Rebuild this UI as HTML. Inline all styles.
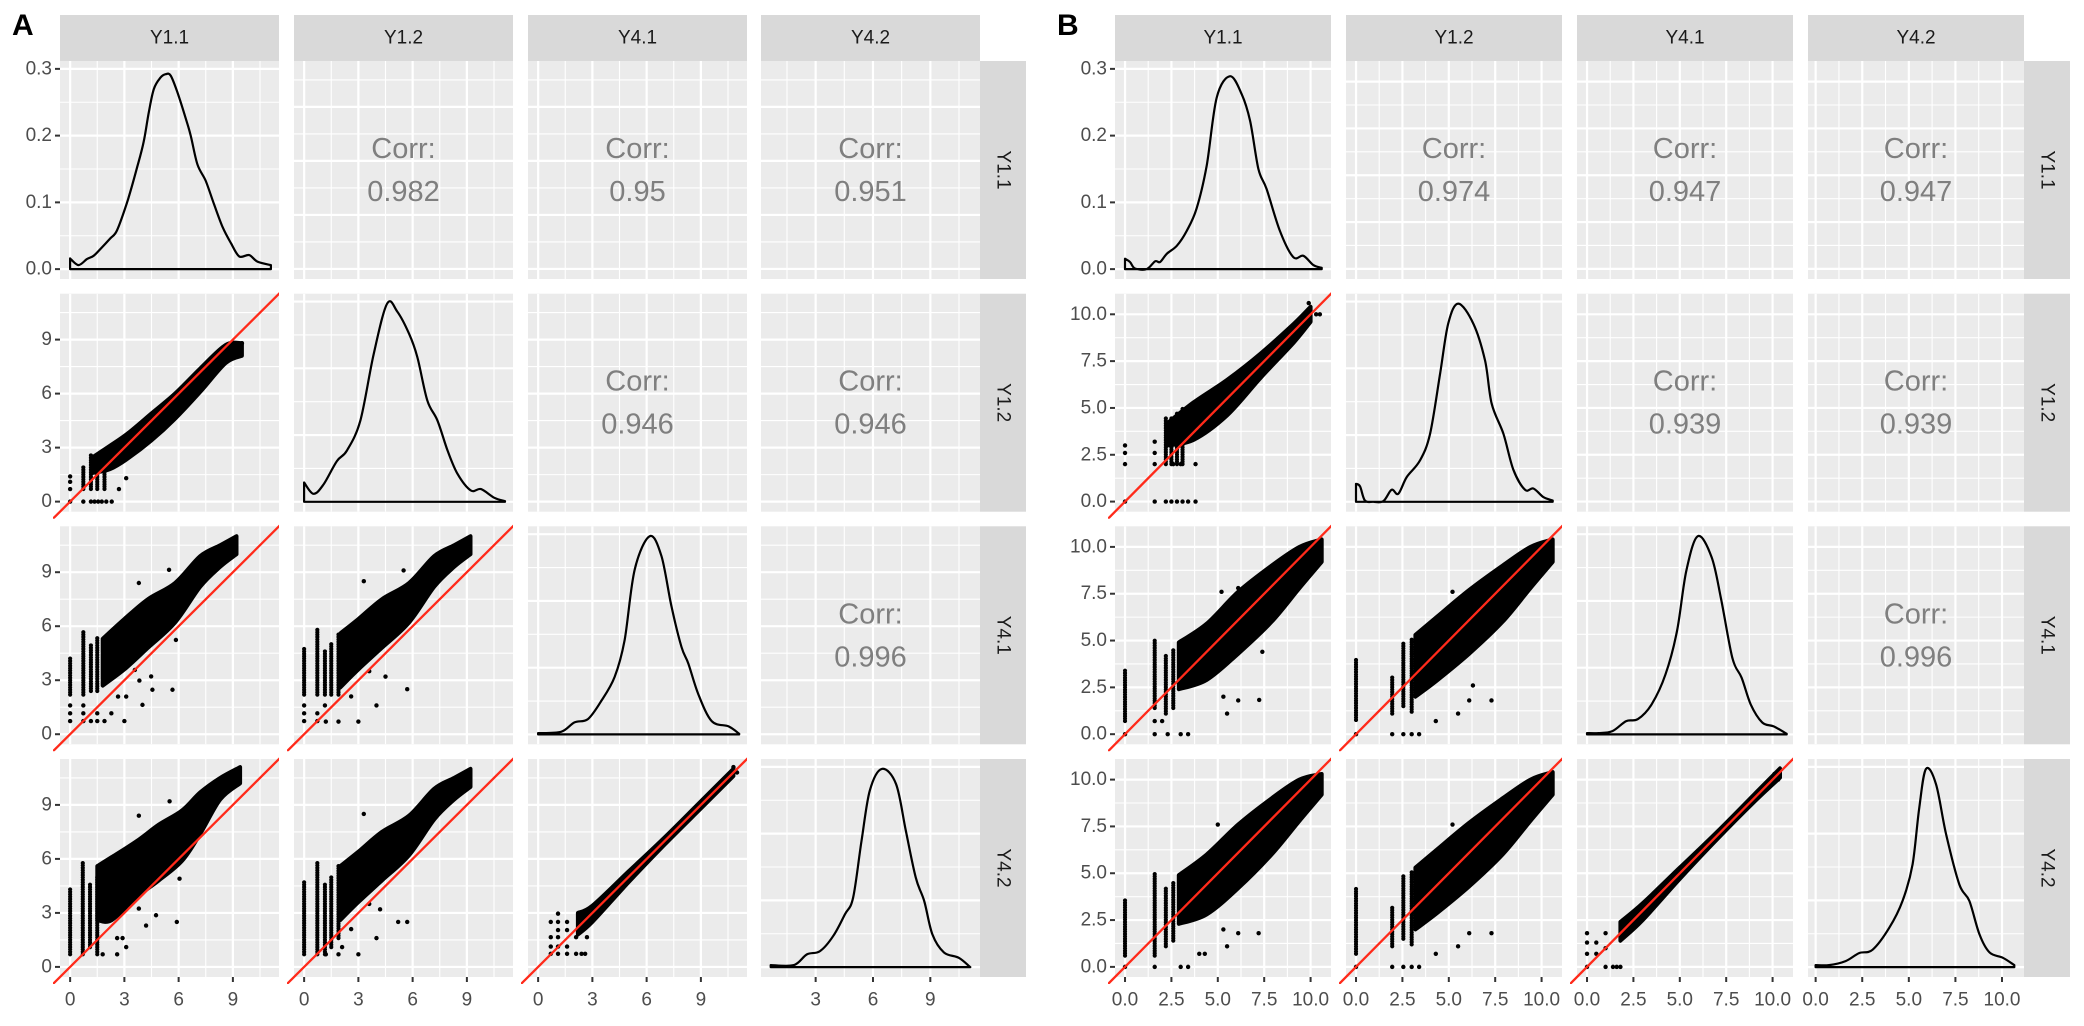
<!DOCTYPE html>
<html><head><meta charset="utf-8">
<style>
html,body{margin:0;padding:0;background:#fff;}
svg{display:block;font-family:"Liberation Sans",Arial,sans-serif;}
</style></head>
<body>
<svg id="chart" width="2084" height="1026" viewBox="0 0 2084 1026" xmlns="http://www.w3.org/2000/svg">
<rect x="0" y="0" width="2084" height="1026" fill="#fff"/>
</svg>
<script>
// ---------- DATA: variable names ----------
const varNames = ["Y1.1","Y1.2","Y4.1","Y4.2"];
// correlations (upper triangle, order: 1-2,1-3,1-4,2-3,2-4,3-4)
const corrA = ["0.982","0.95","0.951","0.946","0.946","0.996"];
const corrB = ["0.974","0.947","0.947","0.939","0.939","0.996"];

// ---------- DATA: densities, panel A ----------
const aD1x=[0,0.46,0.93,1.3,1.67,2.22,2.59,3.15,3.7,4.07,4.35,4.63,5.0,5.28,5.56,5.93,6.39,6.67,7.04,7.5,7.96,8.43,8.89,9.35,9.9,10.37,11.1];
const aD1y=[0.016,0.006,0.015,0.02,0.03,0.046,0.058,0.1,0.152,0.191,0.235,0.27,0.287,0.292,0.29,0.265,0.226,0.2,0.157,0.132,0.097,0.063,0.039,0.019,0.021,0.011,0.006];
const aD2x=[0,0.52,1.07,1.81,2.37,3.11,3.85,4.59,5.15,5.8,6.26,6.81,7.37,7.93,8.48,9.22,9.78,10.52,11.11];
const aD2y=[0.029,0.012,0.026,0.061,0.077,0.122,0.222,0.297,0.285,0.252,0.217,0.152,0.122,0.077,0.042,0.017,0.019,0.006,0.001];
const aD3x=[0,1.27,2.01,2.75,3.49,4.23,4.78,5.34,6.17,6.82,7.38,7.93,8.31,8.86,9.6,10.53,11.12];
const aD3y=[0.002,0.004,0.018,0.023,0.05,0.086,0.141,0.247,0.297,0.267,0.191,0.131,0.106,0.06,0.02,0.012,0.001];
const aD4x=[0.65,1.86,2.54,3.23,3.93,4.53,4.96,5.40,5.83,6.46,7.21,7.72,8.24,8.68,9.11,9.71,10.49,11.09];
const aD4y=[0.003,0.003,0.019,0.024,0.047,0.079,0.104,0.189,0.264,0.297,0.274,0.204,0.134,0.099,0.049,0.022,0.014,0];

// ---------- DATA: densities, panel B ----------
const bD1x=[0,0.27,0.54,1.17,1.62,1.89,2.25,2.79,3.32,3.86,4.4,4.94,5.66,6.29,6.74,7.19,7.63,8.35,9.07,9.61,10.15,10.6];
const bD1y=[0.0156,0.0107,0.001,0,0.0117,0.0107,0.023,0.035,0.057,0.091,0.155,0.257,0.289,0.262,0.222,0.15,0.12,0.057,0.018,0.02,0.006,0.002];
const bD2x=[0,0.22,0.48,0.93,1.47,1.92,2.28,2.73,3.45,3.99,4.53,4.97,5.51,6.32,6.95,7.31,7.94,8.48,9.11,9.56,10.1,10.6];
const bD2y=[0.027,0.023,0.002,0,0.001,0.018,0.012,0.037,0.062,0.102,0.192,0.267,0.297,0.267,0.212,0.147,0.102,0.048,0.018,0.02,0.007,0.002];
const bD3x=[0,0.62,1.37,2.11,2.74,3.48,4.23,4.85,5.35,5.97,6.71,7.21,7.83,8.33,8.82,9.44,10.06,10.76];
const bD3y=[0.002,0.002,0.005,0.02,0.023,0.045,0.09,0.155,0.245,0.297,0.266,0.205,0.115,0.085,0.045,0.018,0.012,0.001];
const bD4x=[0,0.72,1.61,2.33,3.05,3.95,4.66,5.2,5.56,5.92,6.46,7.0,7.71,8.25,8.79,9.33,10.05,10.66];
const bD4y=[0.003,0.003,0.009,0.021,0.026,0.059,0.099,0.154,0.239,0.297,0.274,0.199,0.124,0.099,0.049,0.022,0.014,0.003];

// ---------- DATA: scatter clouds, panel A ----------
const aS21bandX=[1.3,2.2,3.2,4.5,5.8,7.2,8.6,9.5], aS21hi=[2.5,3.1,3.8,4.9,6.0,7.4,8.7,8.8], aS21lo=[1.6,1.8,2.4,3.4,4.6,6.1,7.7,8.1];
const aS21stX=[0.73,1.15,1.5,1.9], aS21stLo=[0.7,0.7,0.7,0.7], aS21stHi=[2.0,2.6,2.6,2.9];
const aS21outX=[0,0,0,0,0.73,1.15,1.35,1.55,1.75,2.0,2.3,2.7,3.1,9.2,9.5], aS21outY=[0,0.7,1.1,1.4,0,0,0,0,0,0,0,0.7,1.3,8.2,8.8];

const aS31bandX=[1.8,3.0,4.3,5.8,7.2,8.3,9.2], aS31hi=[5.3,6.4,7.5,8.4,9.9,10.5,11.0], aS31lo=[2.7,3.6,4.8,6.2,8.2,9.3,10.0];
const aS31stX=[0,0.73,1.15,1.5], aS31stLo=[2.2,2.2,2.4,2.4], aS31stHi=[4.2,5.7,5.0,5.4];
const aS31outX=[3.58,3.83,4.48,4.0,4.55,5.66,5.85,2.65,3.1,2.28,3.0,1.9,5.47,3.8,0,0,0,0.73,0.73,0.73,1.15,1.5,1.5], aS31outY=[3.57,2.98,3.21,1.63,2.47,2.47,5.24,2.09,2.09,1.16,0.73,0.73,9.13,8.4,1.6,1.16,0.73,1.6,1.16,0.73,0.73,1.16,0.73];

const aS41bandX=[1.5,2.3,3.7,4.9,6.2,7.2,8.3,9.4], aS41hi=[5.6,6.1,7.0,7.9,8.7,9.7,10.5,11.1], aS41lo=[2.6,2.6,3.9,4.8,5.9,7.4,9.3,10.2];
const aS41stX=[0,0.7,1.1,1.5], aS41stLo=[0.7,0.7,1.1,0.7], aS41stHi=[4.4,5.8,4.6,5.0];
const aS41outX=[3.8,4.75,5.9,6.05,4.2,2.9,2.6,1.8,2.6,3.1,5.5,3.8], aS41outY=[3.24,2.87,2.5,4.9,2.3,1.6,1.6,0.7,0.7,1.1,9.2,8.4];

const aS32bandX=[2.0,3.0,4.3,5.8,7.2,8.3,9.2], aS32hi=[5.6,6.4,7.5,8.4,9.9,10.5,11.0], aS32lo=[2.6,3.6,4.8,6.2,8.2,9.3,10.0];
const aS32stX=[0,0.73,1.15,1.5,1.9], aS32stLo=[2.2,2.2,2.2,2.2,2.2], aS32stHi=[4.8,5.8,4.6,5.0,5.6];
const aS32outX=[3.6,4.5,5.7,4.0,2.6,3.0,1.9,1.2,5.5,3.3,0,0,0,0.73,0.73,1.15], aS32outY=[3.5,3.2,2.5,1.6,2.1,0.7,0.7,0.7,9.1,8.5,1.6,1.16,0.73,1.16,0.73,1.6];

const aS42bandX=[2.0,3.0,4.3,5.8,7.2,8.3,9.2], aS42hi=[5.6,6.4,7.5,8.4,9.9,10.5,11.0], aS42lo=[2.6,3.6,4.8,6.2,8.2,9.3,10.0];
const aS42stX=[0,0.73,1.15,1.5,1.9], aS42stLo=[0.7,0.7,0.7,1.1,1.6], aS42stHi=[4.8,5.8,4.6,5.0,5.6];
const aS42outX=[3.6,4.2,5.7,4.0,2.6,3.0,1.9,1.2,5.2,3.3,2.1], aS42outY=[3.5,3.2,2.5,1.6,2.1,0.7,0.7,0.7,2.5,8.5,1.1];

const aS43bandX=[2.2,3.0,5.0,7.0,9.0,10.8], aS43hi=[3.0,3.4,5.3,7.2,9.2,11.0], aS43lo=[1.8,2.5,4.7,6.8,8.8,10.6];
const aS43stX=[], aS43stLo=[], aS43stHi=[];
const aS43outX=[0.7,0.7,0.7,0.7,1.1,1.1,1.1,1.1,1.1,1.1,1.6,1.6,1.6,1.6,2.1,2.1,2.4,2.6,2.7,10.8,11.0], aS43outY=[2.5,1.65,1.13,0.73,2.96,2.5,2.05,1.65,1.13,0.73,2.5,2.05,1.13,0.73,1.65,0.73,0.73,0.73,1.65,11.1,10.8];

// ---------- DATA: scatter clouds, panel B ----------
const bS21bandX=[2.3,3.7,5.5,7.3,9.1,10.0], bS21hi=[4.2,5.3,6.5,7.9,9.5,10.4], bS21lo=[3.0,3.3,4.6,6.6,8.5,9.6];
const bS21stX=[2.2,2.5,2.8,3.1], bS21stLo=[2.0,2.0,2.0,2.0], bS21stHi=[4.5,4.5,4.8,5.0];
const bS21outX=[0,0,0,0,1.6,1.6,1.6,1.6,2.2,2.5,2.8,3.1,3.4,3.8,2.6,3.0,3.8,9.9,10.5,10.3], bS21outY=[0,2.0,2.6,3.0,0,2.0,2.6,3.2,0,0,0,0,0,0,2.0,2.0,2.0,10.6,10.0,10.0];

const bS31bandX=[2.9,4.4,6.1,7.9,9.4,10.6], bS31hi=[4.9,5.9,7.6,9.0,10.0,10.4], bS31lo=[2.4,2.9,4.3,6.0,7.8,9.2];
const bS31stX=[0,1.6,2.2,2.6], bS31stLo=[0.7,1.4,1.1,1.4], bS31stHi=[3.5,5.0,4.3,4.6];
const bS31outX=[1.6,2.3,3.0,3.4,7.23,5.5,5.3,6.1,7.4,5.2,6.1,0,1.6,2.0], bS31outY=[0,0,0,0,1.83,1.1,2.0,1.8,4.4,7.6,7.8,0,0.7,0.7];

const bS41bandX=[2.9,4.4,6.1,7.9,9.4,10.6], bS41hi=[4.9,6.0,7.6,9.0,10.0,10.3], bS41lo=[2.3,2.8,4.2,6.0,7.8,9.2];
const bS41stX=[0,1.6,2.2,2.6], bS41stLo=[0.6,0.6,1.1,1.4], bS41stHi=[3.6,5.0,4.3,4.6];
const bS41outX=[1.6,3.0,3.4,4.3,7.2,5.5,5.3,6.1,4.0,5.0,0], bS41outY=[0,0,0,0.7,1.8,1.1,2.0,1.8,0.7,7.6,0];

const bS32bandX=[3.2,4.4,6.1,7.9,9.4,10.6], bS32hi=[5.3,6.3,7.7,9.0,10.0,10.4], bS32lo=[2.0,2.9,4.3,6.0,7.8,9.2];
const bS32stX=[0,1.95,2.55,3.0], bS32stLo=[0.76,1.1,1.5,1.2], bS32stHi=[4.06,3.1,4.9,5.1];
const bS32outX=[0,1.95,2.55,3.0,3.4,4.3,7.3,5.5,6.1,5.2,6.3], bS32outY=[0,0,0,0,0,0.7,1.8,1.1,1.8,7.6,2.6];

const bS42bandX=[3.2,4.4,6.1,7.9,9.4,10.6], bS42hi=[5.3,6.3,7.7,9.0,10.0,10.4], bS42lo=[2.0,2.9,4.3,6.0,7.8,9.2];
const bS42stX=[0,1.95,2.55,3.0], bS42stLo=[0.7,1.1,1.5,1.2], bS42stHi=[4.2,3.2,4.9,5.1];
const bS42outX=[0,1.95,2.55,3.0,3.4,4.3,7.3,5.5,6.1,5.2], bS42outY=[0,0,0,0,0,0.7,1.8,1.1,1.8,7.6];

const bS43bandX=[1.8,3.0,5.0,7.0,9.0,10.4], bS43hi=[2.4,3.4,5.3,7.2,9.2,10.6], bS43lo=[1.4,2.5,4.7,6.8,8.8,10.1];
const bS43stX=[], bS43stLo=[], bS43stHi=[];
const bS43outX=[0,0,0,0,0.5,0.5,1.0,1.0,1.0,1.4,1.6,1.8,10.1,10.3], bS43outY=[1.8,1.3,0.7,0,1.3,0.7,1.8,1.0,0,0,0,0,10.3,10.0];

// ---------- DATA: tick labels ----------
const aTicks=[0,3,6,9], aTickLabels=["0","3","6","9"];
const aTicks4=[3,6,9], aTickLabels4=["3","6","9"];
const bTicks=[0,2.5,5,7.5,10], bTickLabels=["0.0","2.5","5.0","7.5","10.0"];
const densTicks=[0,0.1,0.2,0.3], densTickLabels=["0.0","0.1","0.2","0.3"];

// ---------- rendering ----------
const NS="http://www.w3.org/2000/svg";
const svg=document.getElementById("chart");
function mk(tag,parent){const e=document.createElementNS(NS,tag);(parent||svg).appendChild(e);return e;}
function lin(d0,d1,p0,p1){return v=>p0+(v-d0)/(d1-d0)*(p1-p0);}
function minors(step,lo,hi){const r=[];for(let v=Math.ceil((lo-step/2)/step)*step+step/2;v<=hi;v+=step)if(v>=lo)r.push(v);return r;}
function majors(step,lo,hi){const r=[];for(let v=Math.ceil(lo/step)*step;v<=hi+1e-9;v+=step)r.push(+v.toFixed(6));return r;}
function smoothPath(P){
  let d="";
  for(let i=0;i<P.length-1;i++){
    const p0=P[Math.max(0,i-1)],p1=P[i],p2=P[i+1],p3=P[Math.min(P.length-1,i+2)];
    const c1=[p1[0]+(p2[0]-p0[0])/6,p1[1]+(p2[1]-p0[1])/6];
    const c2=[p2[0]-(p3[0]-p1[0])/6,p2[1]-(p3[1]-p1[1])/6];
    d+=" C"+c1[0].toFixed(1)+","+c1[1].toFixed(1)+" "+c2[0].toFixed(1)+","+c2[1].toFixed(1)+" "+p2[0].toFixed(1)+","+p2[1].toFixed(1);
  }
  return d;
}

const ROWT=[61,293.7,526.3,759], PH=218;
const DENS_DOM=[-0.0148,0.3118];

function drawMatrix(M){
  const g=mk("g");
  
  
  const lbl=mk("text",g);
  lbl.setAttribute("x",M.labelX);lbl.setAttribute("y",35);lbl.setAttribute("font-size","30");lbl.setAttribute("font-weight","bold");lbl.setAttribute("fill","#000");
  lbl.textContent=M.label;
  
  
  const colX=c=>lin(M.xDom[c][0],M.xDom[c][1],M.colL[c],M.colL[c]+M.w);
  const dataY=r=>lin(M.yDom[0],M.yDom[1],ROWT[r]+PH,ROWT[r]);
  const densY=r=>lin(DENS_DOM[0],DENS_DOM[1],ROWT[r]+PH,ROWT[r]);
  let ci=0;
  for(let r=0;r<4;r++){
    for(let c=0;c<4;c++){
      const x0=M.colL[c], y0=ROWT[r];
      const pg=mk("g",g);
      
      
      const cid=M.label+"clip"+r+c;
      const cp=mk("clipPath",pg);cp.setAttribute("id",cid);
      const cr=mk("rect",cp);cr.setAttribute("x",x0);cr.setAttribute("y",y0);cr.setAttribute("width",M.w);cr.setAttribute("height",PH);
      const cid2=M.label+"clipw"+r+c;
      const cp2=mk("clipPath",pg);cp2.setAttribute("id",cid2);
      const cr2=mk("rect",cp2);cr2.setAttribute("x",x0-7);cr2.setAttribute("y",y0-7);cr2.setAttribute("width",M.w+7);cr2.setAttribute("height",PH+14);
      const bg=mk("rect",pg);
      bg.setAttribute("x",x0);bg.setAttribute("y",y0);bg.setAttribute("width",M.w);bg.setAttribute("height",PH);bg.setAttribute("fill","#ebebeb");
      
      
      const xs=colX(c);
      const isDens=(r===c);
      const ys=isDens?densY(r):dataY(r);
      const xd=M.xDom[c];
      const xMaj=majors(M.xStep,xd[0],xd[1]).filter(v=>c<3||v>=M.col4Min);
      const xMin=minors(M.xStep,xd[0],xd[1]);
      const yStep=isDens?0.1:M.xStep;
      const yd=isDens?DENS_DOM:M.yDom;
      const yMaj=majors(yStep,yd[0],yd[1]), yMin=minors(yStep,yd[0],yd[1]);
      const gg=mk("g",pg);gg.setAttribute("clip-path","url(#"+cid+")");
      
      
      [[xMin,1.1],[xMaj,2.2]].forEach(([arr,sw])=>arr.forEach(v=>{const l=mk("line",gg);l.setAttribute("x1",xs(v));l.setAttribute("x2",xs(v));l.setAttribute("y1",y0);l.setAttribute("y2",y0+PH);l.setAttribute("stroke","#fff");l.setAttribute("stroke-width",sw);}));
      [[yMin,1.1],[yMaj,2.2]].forEach(([arr,sw])=>arr.forEach(v=>{const l=mk("line",gg);l.setAttribute("y1",ys(v));l.setAttribute("y2",ys(v));l.setAttribute("x1",x0);l.setAttribute("x2",x0+M.w);l.setAttribute("stroke","#fff");l.setAttribute("stroke-width",sw);}));
      const cg=mk("g",pg);cg.setAttribute("clip-path","url(#"+cid+")");
      if(isDens){
        const dx=M.dens[r][0], dy=M.dens[r][1];
        const P=dx.map((v,i)=>[xs(v),ys(dy[i])]);
        let d="M"+xs(dx[0]).toFixed(1)+","+ys(0).toFixed(1)+" L"+P[0][0].toFixed(1)+","+P[0][1].toFixed(1);
        d+=smoothPath(P);
        d+=" L"+xs(dx[dx.length-1]).toFixed(1)+","+ys(0).toFixed(1)+" Z";
        const p=mk("path",cg);p.setAttribute("d",d);p.setAttribute("fill","none");p.setAttribute("stroke","#000");p.setAttribute("stroke-width","2.2");p.setAttribute("stroke-linejoin","round");
        
        
      } else if(r<c){
        const cx=x0+M.w/2, cy=y0+PH/2;
        const t1=mk("text",cg);t1.setAttribute("x",cx);t1.setAttribute("y",cy-21);t1.setAttribute("text-anchor","middle");t1.setAttribute("dominant-baseline","central");t1.setAttribute("font-size","29");t1.setAttribute("fill","#7f7f7f");t1.textContent="Corr:";
        
        
        const t2=mk("text",cg);t2.setAttribute("x",cx);t2.setAttribute("y",cy+22);t2.setAttribute("text-anchor","middle");t2.setAttribute("dominant-baseline","central");t2.setAttribute("font-size","29");t2.setAttribute("fill","#7f7f7f");t2.textContent=M.corr[ci++];
        
        
      } else {
        const S=M.scat[""+(r+1)+(c+1)];
        const bx=S[0],bh=S[1],bl=S[2];
        const up=bx.map((v,i)=>[xs(v),ys(bh[i])]);
        const dn=bx.map((v,i)=>[xs(v),ys(bl[i])]).reverse();
        let d="M"+up[0][0].toFixed(1)+","+up[0][1].toFixed(1)+smoothPath(up)+" L"+dn[0][0].toFixed(1)+","+dn[0][1].toFixed(1)+smoothPath(dn)+" Z";
        const poly=mk("path",cg);poly.setAttribute("d",d);poly.setAttribute("fill","#000");poly.setAttribute("stroke","#000");poly.setAttribute("stroke-width","4");poly.setAttribute("stroke-linejoin","round");
        
        
        const sx=S[3],slo=S[4],shi=S[5];
        for(let i=0;i<sx.length;i++){
          const l=mk("line",cg);l.setAttribute("x1",xs(sx[i]));l.setAttribute("x2",xs(sx[i]));l.setAttribute("y1",ys(slo[i]));l.setAttribute("y2",ys(shi[i]));
          l.setAttribute("stroke","#000");l.setAttribute("stroke-width","4.2");l.setAttribute("stroke-linecap","round");l.setAttribute("stroke-dasharray","0 2.4");
          
          
        }
        const ox=S[6],oy=S[7];
        for(let i=0;i<ox.length;i++){
          const ct=mk("circle",cg);ct.setAttribute("cx",xs(ox[i]));ct.setAttribute("cy",ys(oy[i]));ct.setAttribute("r","2.2");ct.setAttribute("fill","#000");
          
          
        }
        const rg=mk("g",pg);rg.setAttribute("clip-path","url(#"+cid2+")");
        const rl=mk("line",rg);
        rl.setAttribute("x1",xs(-1));rl.setAttribute("y1",ys(-1));rl.setAttribute("x2",xs(13));rl.setAttribute("y2",ys(13));
        rl.setAttribute("stroke","#ff2a1a");rl.setAttribute("stroke-width","2.3");
        
        
      }
    }
  }
  // strips
  for(let c=0;c<4;c++){
    const s=mk("rect",g);s.setAttribute("x",M.colL[c]);s.setAttribute("y",15);s.setAttribute("width",M.w);s.setAttribute("height",46);s.setAttribute("fill","#d9d9d9");
    
    
    const t=mk("text",g);t.setAttribute("x",M.colL[c]+M.w/2);t.setAttribute("y",38);t.setAttribute("text-anchor","middle");t.setAttribute("dominant-baseline","central");t.setAttribute("font-size","19");t.setAttribute("fill","#1a1a1a");t.textContent=varNames[c];
    
    
  }
  const sx0=M.colL[3]+M.w;
  for(let r=0;r<4;r++){
    const s=mk("rect",g);s.setAttribute("x",sx0);s.setAttribute("y",ROWT[r]);s.setAttribute("width",46);s.setAttribute("height",PH);s.setAttribute("fill","#d9d9d9");
    
    
    const cx=sx0+23, cy=ROWT[r]+PH/2;
    const t=mk("text",g);t.setAttribute("x",cx);t.setAttribute("y",cy);t.setAttribute("text-anchor","middle");t.setAttribute("dominant-baseline","central");t.setAttribute("font-size","19");t.setAttribute("fill","#1a1a1a");t.setAttribute("transform","rotate(90 "+cx+" "+cy+")");t.textContent=varNames[r];
    
    
  }
  // y axis ticks (left of column 1)
  for(let r=0;r<4;r++){
    const ys=r===0?densY(0):dataY(r);
    const tv=r===0?densTicks:M.ticks, tl=r===0?densTickLabels:M.tickLabels;
    const x0=M.colL[0];
    for(let i=0;i<tv.length;i++){
      const y=ys(tv[i]);
      const l=mk("line",g);l.setAttribute("x1",x0-5);l.setAttribute("x2",x0);l.setAttribute("y1",y);l.setAttribute("y2",y);l.setAttribute("stroke","#333");l.setAttribute("stroke-width","2");
      
      
      const t=mk("text",g);t.setAttribute("x",x0-8);t.setAttribute("y",y);t.setAttribute("text-anchor","end");t.setAttribute("dominant-baseline","central");t.setAttribute("font-size","19");t.setAttribute("fill","#4d4d4d");t.textContent=tl[i];
      
      
    }
  }
  // x axis ticks (below row 4)
  const yb=ROWT[3]+PH;
  for(let c=0;c<4;c++){
    const xs=colX(c);
    const tv=c<3?M.ticks:M.ticks4, tl=c<3?M.tickLabels:M.tickLabels4;
    for(let i=0;i<tv.length;i++){
      const x=xs(tv[i]);
      const l=mk("line",g);l.setAttribute("x1",x);l.setAttribute("x2",x);l.setAttribute("y1",yb);l.setAttribute("y2",yb+5);l.setAttribute("stroke","#333");l.setAttribute("stroke-width","2");
      
      
      const t=mk("text",g);t.setAttribute("x",x);t.setAttribute("y",1000);t.setAttribute("text-anchor","middle");t.setAttribute("dominant-baseline","central");t.setAttribute("font-size","19");t.setAttribute("fill","#4d4d4d");t.textContent=tl[i];
      
      
    }
  }
}

drawMatrix({
  name:"panel-a-matrix",label:"A",labelX:12,colL:[60,294,528,761],w:219,
  xDom:[[-0.56,11.55],[-0.56,11.55],[-0.56,11.55],[0.14,11.6]],yDom:[-0.56,11.55],
  xStep:3,col4Min:0.5,ticks:aTicks,tickLabels:aTickLabels,ticks4:aTicks4,tickLabels4:aTickLabels4,
  corr:corrA,
  dens:[[aD1x,aD1y],[aD2x,aD2y],[aD3x,aD3y],[aD4x,aD4y]],
  scat:{
    "21":[aS21bandX,aS21hi,aS21lo,aS21stX,aS21stLo,aS21stHi,aS21outX,aS21outY],
    "31":[aS31bandX,aS31hi,aS31lo,aS31stX,aS31stLo,aS31stHi,aS31outX,aS31outY],
    "41":[aS41bandX,aS41hi,aS41lo,aS41stX,aS41stLo,aS41stHi,aS41outX,aS41outY],
    "32":[aS32bandX,aS32hi,aS32lo,aS32stX,aS32stLo,aS32stHi,aS32outX,aS32outY],
    "42":[aS42bandX,aS42hi,aS42lo,aS42stX,aS42stLo,aS42stHi,aS42outX,aS42outY],
    "43":[aS43bandX,aS43hi,aS43lo,aS43stX,aS43stLo,aS43stHi,aS43outX,aS43outY]
  }
});
drawMatrix({
  name:"panel-b-matrix",label:"B",labelX:1057,colL:[1115,1346,1577,1808],w:216,
  xDom:[[-0.54,11.1],[-0.54,11.1],[-0.54,11.1],[-0.41,11.18]],yDom:[-0.54,11.1],
  xStep:2.5,col4Min:-1,ticks:bTicks,tickLabels:bTickLabels,ticks4:bTicks,tickLabels4:bTickLabels,
  corr:corrB,
  dens:[[bD1x,bD1y],[bD2x,bD2y],[bD3x,bD3y],[bD4x,bD4y]],
  scat:{
    "21":[bS21bandX,bS21hi,bS21lo,bS21stX,bS21stLo,bS21stHi,bS21outX,bS21outY],
    "31":[bS31bandX,bS31hi,bS31lo,bS31stX,bS31stLo,bS31stHi,bS31outX,bS31outY],
    "41":[bS41bandX,bS41hi,bS41lo,bS41stX,bS41stLo,bS41stHi,bS41outX,bS41outY],
    "32":[bS32bandX,bS32hi,bS32lo,bS32stX,bS32stLo,bS32stHi,bS32outX,bS32outY],
    "42":[bS42bandX,bS42hi,bS42lo,bS42stX,bS42stLo,bS42stHi,bS42outX,bS42outY],
    "43":[bS43bandX,bS43hi,bS43lo,bS43stX,bS43stLo,bS43stHi,bS43outX,bS43outY]
  }
});
</script>
</body></html>
